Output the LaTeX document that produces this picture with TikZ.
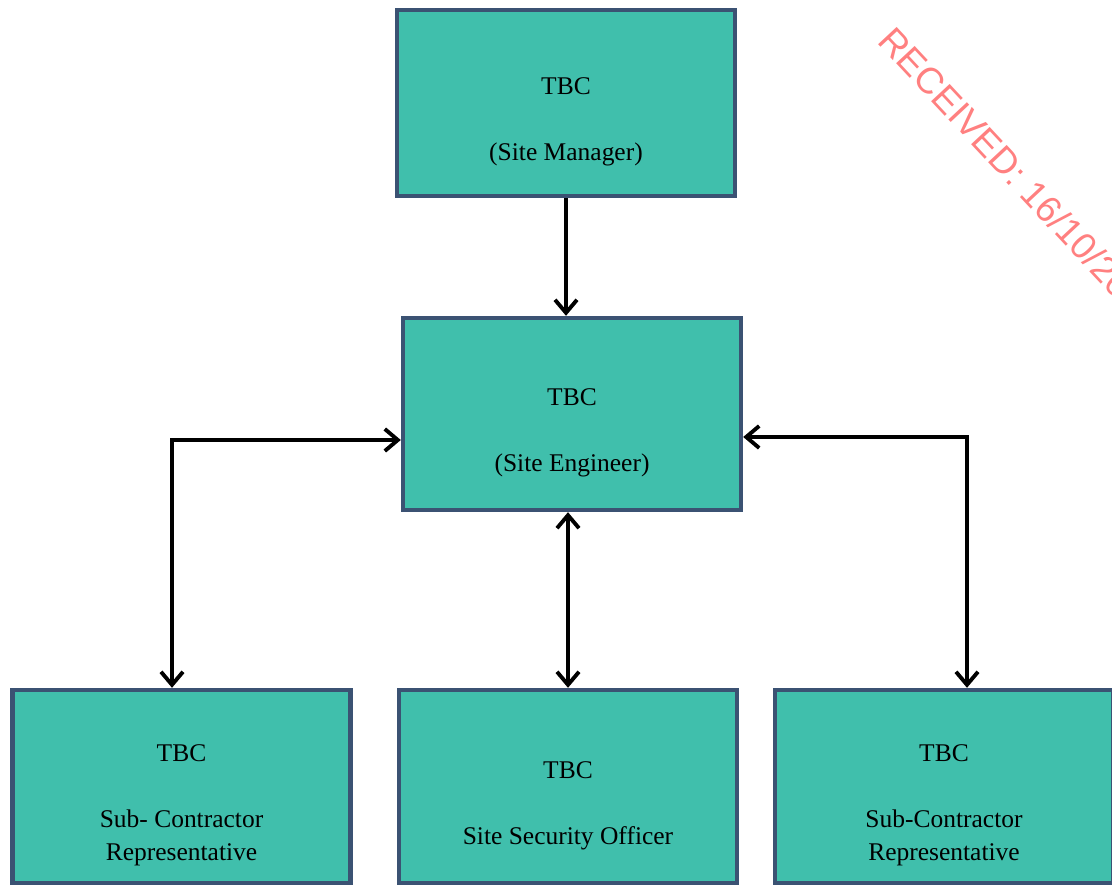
\documentclass[tikz,border=0pt]{standalone}
\usepackage{fontspec}
\setmainfont{Liberation Serif}
\newfontfamily\stampfont{Liberation Sans}
\usetikzlibrary{positioning,arrows.meta}
\definecolor{rolefill}{HTML}{40BFAC}
\definecolor{roleline}{HTML}{3B5273}
\definecolor{stampcol}{HTML}{FF8080}

\begin{document}
\begin{tikzpicture}[font=\fontsize{14.5}{18.7}\selectfont,
  role/.style={draw=roleline, line width=2.5pt, fill=rolefill,
    minimum width=6.76cm, minimum height=3.84cm},
  roletxt/.style={align=center, text=black, yshift=-0.38cm},
  link/.style={-{Straight Barb[length=2.6mm, width=4.4mm]}, line width=2.2pt},
  twoway/.style={{Straight Barb[length=2.6mm, width=4.4mm]}-{Straight Barb[length=2.6mm, width=4.4mm]},
    line width=2.2pt}]
\useasboundingbox (0,0) rectangle (22.24,17.72);
\clip (0,0) rectangle (22.24,17.72);
% management
\node[role, minimum height=3.72cm,
  label={[roletxt]center:{TBC\\[18.7pt](Site Manager)}}] (mgr) at (11.32,15.66) {};
\node[role, label={[roletxt]center:{TBC\\[18.7pt](Site Engineer)}}] (eng) at (11.44,9.44) {};
% site level
\node[role, minimum height=3.86cm,
  label={[roletxt]center:{TBC\\[18.7pt]Sub- Contractor\\Representative}}] (subl) at (3.63,1.99) {};
\node[role, minimum height=3.86cm,
  label={[roletxt]center:{TBC\\[18.7pt]Site Security Officer}}] (sso) at (11.36,1.99) {};
\node[role, minimum height=3.86cm,
  label={[roletxt]center:{TBC\\[18.7pt]Sub-Contractor\\Representative}}] (subr) at (18.88,1.99) {};
% elbows of the side links
\coordinate (lbend) at (3.44,8.92);
\coordinate (rbend) at (19.34,8.98);
% links
\draw[link] (mgr.south) -- (mgr.south |- eng.north);
\draw[twoway] (subl.north -| lbend) -- (lbend) -- (lbend -| eng.west);
\draw[twoway] (sso.north) -- (sso.north |- eng.south);
\draw[twoway] (subr.north -| rbend) -- (rbend) -- (rbend -| eng.east);
% stamp
\node[anchor=base west, rotate=-47, inner sep=0pt, text=stampcol,
  font=\stampfont\fontsize{21}{25}\selectfont] (stamp) at (17.52,16.88) {RECEIVED: 16/10/2023};
\end{tikzpicture}
\end{document}
